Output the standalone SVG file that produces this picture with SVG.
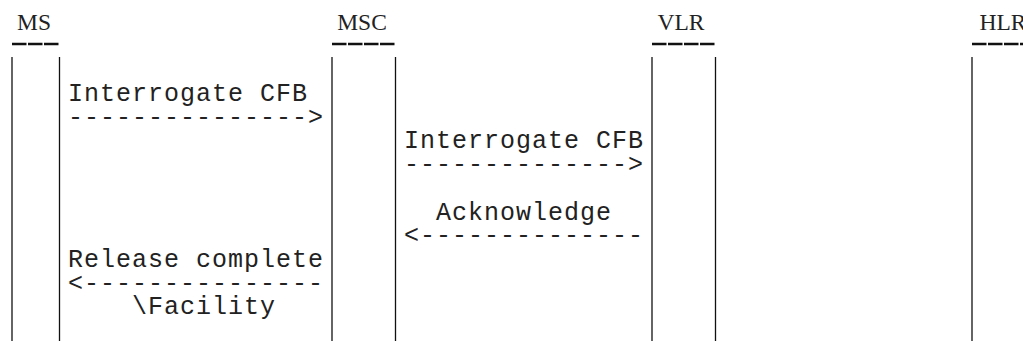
<svg xmlns="http://www.w3.org/2000/svg" width="1023" height="341" viewBox="0 0 1023 341">
<style>
.hdr{font-family:"Liberation Serif","Times New Roman",serif;font-size:23.5px;fill:#222;text-anchor:middle}
.mono{font-family:"Liberation Mono","Courier New",monospace;font-size:25px;letter-spacing:1px;fill:#222;white-space:pre}
.bar{stroke:#111;stroke-width:1.3;fill:none}
.ul{stroke:#111;stroke-width:2.6;stroke-dasharray:14.5 1.5;fill:none}
</style>
<rect width="1023" height="341" fill="#fff"/>
<g id="node-MS">
<text class="hdr" x="34" y="30">MS</text>
<line class="ul" x1="12" y1="44" x2="59" y2="44"/>
<line class="bar" x1="12" y1="57" x2="12" y2="341"/>
<line class="bar" x1="59.5" y1="57" x2="59.5" y2="341"/>
</g>
<g id="node-MSC">
<text class="hdr" x="362" y="30">MSC</text>
<line class="ul" x1="332" y1="44" x2="396" y2="44"/>
<line class="bar" x1="332" y1="57" x2="332" y2="341"/>
<line class="bar" x1="395.5" y1="57" x2="395.5" y2="341"/>
</g>
<g id="node-VLR">
<text class="hdr" x="681" y="30">VLR</text>
<line class="ul" x1="652" y1="44" x2="716" y2="44"/>
<line class="bar" x1="652" y1="57" x2="652" y2="341"/>
<line class="bar" x1="715.5" y1="57" x2="715.5" y2="341"/>
</g>
<g id="node-HLR">
<text class="hdr" x="1003" y="30">HLR</text>
<line class="ul" x1="972" y1="44" x2="1036" y2="44"/>
<line class="bar" x1="972" y1="57" x2="972" y2="341"/>
</g>
<g id="connectors">
<text class="mono" x="68" y="101">Interrogate CFB</text>
<text class="mono" x="68" y="124.7">---------------&gt;</text>
<text class="mono" x="404" y="148.4">Interrogate CFB</text>
<text class="mono" x="404" y="172.1">--------------&gt;</text>
<text class="mono" x="436" y="219.5">Acknowledge</text>
<text class="mono" x="404" y="243.2">&lt;--------------</text>
<text class="mono" x="68" y="266.9">Release complete</text>
<text class="mono" x="68" y="290.6">&lt;---------------</text>
<text class="mono" x="132" y="314.3">\Facility</text>
</g>
</svg>
